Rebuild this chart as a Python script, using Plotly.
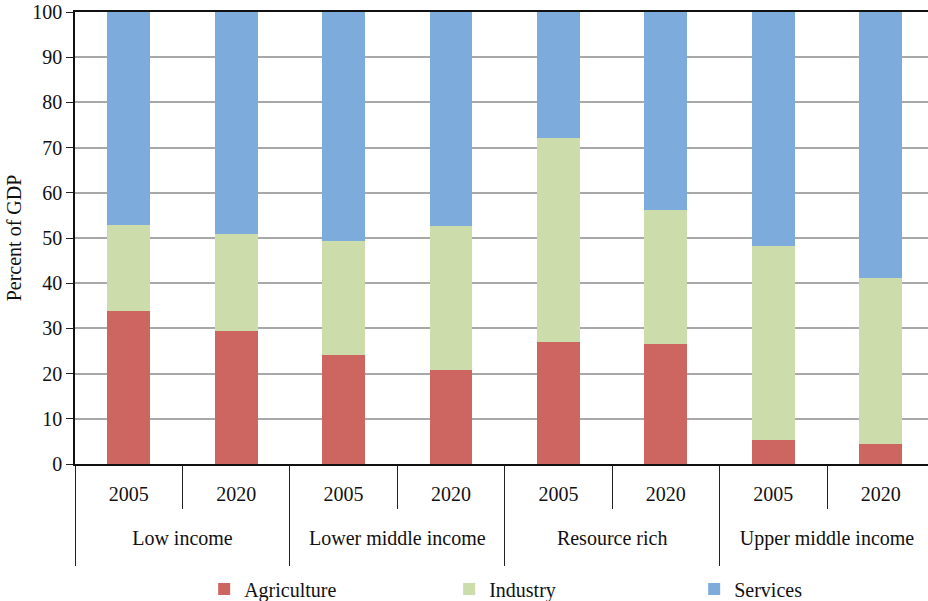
import plotly.graph_objects as go

# Sector shares of GDP (percent) by country group and year
groups = ["Low income", "Low income",
          "Lower middle income", "Lower middle income",
          "Resource rich", "Resource rich",
          "Upper middle income", "Upper middle income"]
years = ["2005", "2020", "2005", "2020", "2005", "2020", "2005", "2020"]

agriculture = [33.9, 29.4, 24.1, 20.8, 26.9, 26.6, 5.3, 4.4]
industry = [19.0, 21.5, 25.3, 31.9, 45.3, 29.6, 43.0, 36.8]
services = [47.1, 49.1, 50.6, 47.3, 27.8, 43.8, 51.7, 58.8]

y_ticks = list(range(0, 101, 10))

FONT = "Liberation Serif, serif"
FS = 20
colors = {"Agriculture": "#CD6660", "Industry": "#CDDCAB", "Services": "#7DABDB"}

# Spacing helpers for the two-level category axis: a tall blank around each
# year widens the gap to the group row, and a small trailing line lengthens
# the group dividers.
PAD = "<span style='font-size:25px'>\u00a0</span>"
year_labels = [PAD + y + PAD for y in years]
group_labels = ["<br>" + g + "<br><sup>\u00a0</sup>" for g in groups]

fig = go.Figure()
for name, vals in [("Agriculture", agriculture), ("Industry", industry), ("Services", services)]:
    fig.add_trace(go.Bar(
        x=[group_labels, year_labels], y=vals, name=name,
        marker=dict(color=colors[name], line=dict(width=0)),
    ))

fig.update_layout(
    barmode="stack",
    bargap=0.6,
    width=928, height=601,
    margin=dict(l=75, r=0, t=12, b=137),
    paper_bgcolor="white", plot_bgcolor="white",
    font=dict(family=FONT, size=FS, color="#111111"),
    showlegend=True,
    legend=dict(
        orientation="h", xref="container", x=0.22, xanchor="left",
        yref="container", y=0.02, yanchor="middle",
        font=dict(family=FONT, size=FS), entrywidth=200, entrywidthmode="pixels",
        itemwidth=30, traceorder="normal",
    ),
    xaxis=dict(
        type="multicategory",
        range=[-0.5, 7.44],
        automargin=False,
        showline=True, linecolor="#111111", linewidth=1.5, mirror=True,
        ticks="outside", ticklen=43, tickwidth=1.2, tickcolor="#222222",
        tickson="boundaries",
        showdividers=True, dividercolor="#222222", dividerwidth=1.2,
        ticklabelstandoff=11,
        tickfont=dict(family=FONT, size=FS),
        showgrid=False,
    ),
    yaxis=dict(
        range=[0, 100],
        automargin=False,
        tickvals=y_ticks,
        showline=True, linecolor="#111111", linewidth=1.5,
        ticks="outside", ticklen=7, tickwidth=1.2, tickcolor="#222222",
        showgrid=True, gridcolor="#A8A8A8", gridwidth=1.5,
        tickfont=dict(family=FONT, size=FS),
        title=dict(text="Percent of GDP", font=dict(family=FONT, size=FS), standoff=5),
        zeroline=False,
    ),
)

fig.write_html("out.html")
